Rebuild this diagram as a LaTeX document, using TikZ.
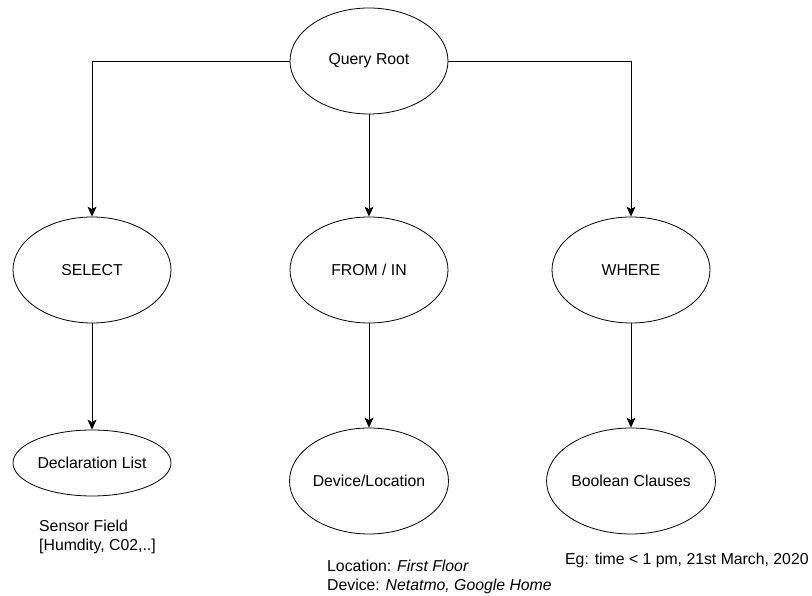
\documentclass[tikz,border=0pt]{standalone}
\usepackage{fontspec}
\setmainfont{Liberation Sans}
\usetikzlibrary{
		arrows.meta,
		shapes.geometric
	}
\tikzset{
		>={Stealth[length=10pt,width=9pt,inset=2.5pt]},
		clause/.style={ellipse, draw, line width=0.8pt, inner sep=0pt,
			minimum width=158pt, minimum height=106pt,
			font=\fontsize{15.8}{19}\selectfont},
		note/.style={anchor=west, align=left, inner sep=0pt,
			font=\fontsize{15.8}{19}\selectfont}
	}

\begin{document}
\begin{tikzpicture}[x=1pt, y=1pt]
            \useasboundingbox (0,0) rectangle (812,596);

            % query tree
            \node[clause] (root) at (369, 535) {Query Root};
            \node[clause] (select) at (92, 326) {SELECT};
            \node[clause] (from) at (369, 326) {FROM / IN};
            \node[clause] (where) at (631, 326) {WHERE};
            \node[clause, minimum height=66pt] (decl) at (92, 133) {Declaration List};
            \node[clause] (devloc) at (369, 115) {Device/Location};
            \node[clause] (bool) at (631, 115) {Boolean Clauses};

            \draw[->] (root.west) -| (select.north) [line width=0.8pt];
            \draw[->] (root.south) -- (from.north) [line width=0.8pt];
            \draw[->] (root.east) -| (where.north) [line width=0.8pt];
            \draw[->] (select.south) -- (decl.north) [line width=0.8pt];
            \draw[->] (from.south) -- (devloc.north) [line width=0.8pt];
            \draw[->] (where.south) -- (bool.north) [line width=0.8pt];

            % examples
            \node[note] (sensor) at (39, 59) {Sensor Field\\{}[Humdity, C02,..]};
            \node[note] (place) at (327, 19) {Location: \textit{First Floor}\\Device: \textit{Netatmo, Google Home}};
            \node[note] (eg) at (565, 36) {Eg: time < 1 pm, 21st March, 2020};

        \end{tikzpicture}
\end{document}
